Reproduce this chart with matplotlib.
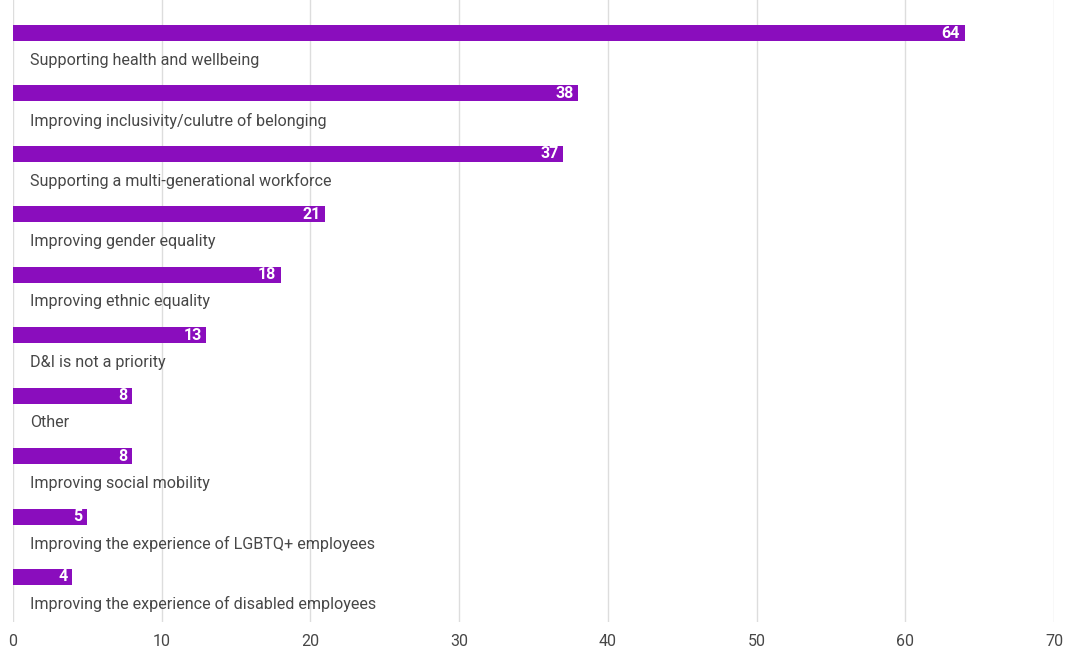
import matplotlib.pyplot as plt
import numpy as np

plt.rcParams['font.family'] = ['Roboto', 'DejaVu Sans']

# survey answers, top to bottom
categories = [
    "Supporting health and wellbeing",
    "Improving inclusivity/culutre of belonging",
    "Supporting a multi-generational workforce",
    "Improving gender equality",
    "Improving ethnic equality",
    "D&I is not a priority",
    "Other",
    "Improving social mobility",
    "Improving the experience of LGBTQ+ employees",
    "Improving the experience of disabled employees",
]
values = [64, 38, 37, 21, 18, 13, 8, 8, 5, 4]
xticks = [0, 10, 20, 30, 40, 50, 60, 70]

bar_col = '#8A0DBD'
txt_col = '#474747'

fig = plt.figure(figsize=(10.65, 6.52), dpi=100)
ax = fig.add_axes([13/1065, 30/652, 1041/1065, 622/652])

pos = np.arange(len(categories))
ax.barh(pos, values, height=0.265, color=bar_col, zorder=3)

for p, v, c in zip(pos, values, categories):
    ax.annotate(str(v), (v, p), xytext=(-3.5, 0), textcoords='offset points',
                ha='right', va='center', color='white', fontsize=11.5,
                fontweight='bold', zorder=4)
    ax.text(1.12, p + 0.45, c, ha='left', va='center', color=txt_col,
            fontsize=11.6, zorder=4)

ax.set_xlim(0, 70)
ax.set_ylim(9.745, -0.546)
ax.set_xticks(xticks)
ax.set_yticks([])
ax.grid(axis='x', color='#dddddd', linewidth=1, zorder=0)
for s in ax.spines.values():
    s.set_visible(False)
ax.tick_params(axis='x', length=0, pad=9, labelsize=11.5, labelcolor=txt_col)

fig.savefig('out.png', dpi=100, facecolor='white')
